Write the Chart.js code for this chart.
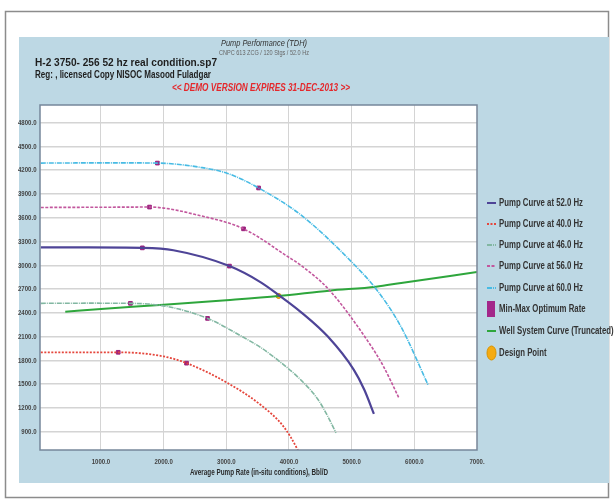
<!DOCTYPE html>
<html>
<head>
<meta charset="utf-8">
<script src="https://cdn.jsdelivr.net/npm/chart.js@4/dist/chart.umd.min.js"></script>
<style>
  html, body { margin: 0; padding: 0; background: #fff; }
  #wrap { position: relative; width: 614px; height: 503px; }
</style>
</head>
<body>
<div id="wrap"><canvas id="pumpChart" width="614" height="503"></canvas></div>
<script>
// Pump performance curves (rate in Bbl/D, head in ft)

const seriesLabels = [
    'Pump Curve at 52.0 Hz',
    'Pump Curve at 40.0 Hz',
    'Pump Curve at 46.0 Hz',
    'Pump Curve at 56.0 Hz',
    'Pump Curve at 60.0 Hz',
    'Min-Max Optimum Rate',
    'Well System Curve (Truncated)',
    'Design Point'
];

const hz52Rate = [40, 800, 1660, 2155, 3050, 3550, 3835, 4190, 4620, 5035, 5200, 5355];
const hz52Head = [3225, 3226, 3220, 3190, 2990, 2785, 2625, 2410, 2100, 1680, 1432, 1125];

const hz40Rate = [40, 700, 1275, 2000, 2365, 3020, 3550, 3915, 4140, 4200];
const hz40Head = [1900, 1902, 1902, 1850, 1765, 1515, 1237, 963, 669, 560];

const hz46Rate = [40, 800, 1470, 2060, 2700, 3230, 3550, 3820, 4190, 4460, 4610, 4750];
const hz46Head = [2520, 2522, 2520, 2480, 2330, 2110, 1962, 1805, 1553, 1310, 1107, 885];

const hz56Rate = [40, 800, 1775, 2590, 3275, 3980, 4190, 4640, 5260, 5500, 5755];
const hz56Head = [3730, 3732, 3735, 3625, 3460, 3110, 3000, 2690, 2040, 1735, 1325];

const hz60Rate = [40, 600, 1200, 1900, 2590, 3020, 3515, 4190, 4990, 5420, 5790, 6220];
const hz60Head = [4290, 4292, 4293, 4290, 4236, 4160, 3976, 3635, 3050, 2670, 2220, 1490];

const optimumRate = [1275, 2365, 1470, 2700, 1660, 3050, 1775, 3275, 1900, 3515];
const optimumHead = [1902, 1765, 2520, 2330, 3220, 2990, 3735, 3460, 4290, 3976];

const wellRate = [430, 1000, 2000, 3000, 3835, 4640, 5390, 5790, 7000];
const wellHead = [2415, 2450, 2503, 2560, 2613, 2680, 2730, 2777, 2915];

const designRate = [3835];
const designHead = [2613];

const xTickValues = [1000, 2000, 3000, 4000, 5000, 6000, 7000];
const xTickLabels = ['1000.0', '2000.0', '3000.0', '4000.0', '5000.0', '6000.0', '7000.'];
const yTickValues = [900, 1200, 1500, 1800, 2100, 2400, 2700, 3000, 3300, 3600, 3900, 4200, 4500, 4800];

const titleLines = ['Pump Performance (TDH)', 'CNPC 613 ZCG / 120 Stgs / 52.0 Hz'];
const fileLine = 'H-2 3750- 256 52 hz real condition.sp7';
const regLine = 'Reg: , licensed Copy NISOC Masood Fuladgar';
const demoLine = '<< DEMO VERSION EXPIRES 31-DEC-2013 >>';
const xAxisTitle = 'Average Pump Rate (in-situ conditions), Bbl/D';

const FONT = "'Liberation Sans', Arial, sans-serif";

function toPoints(xs, ys) {
    return xs.map((x, i) => ({ x: x, y: ys[i] }));
}

function curve(label, xs, ys, color, dash, width) {
    return {
        label: label,
        data: toPoints(xs, ys),
        borderColor: color,
        backgroundColor: color,
        borderWidth: width,
        borderDash: dash,
        pointRadius: 0,
        cubicInterpolationMode: 'monotone',
        fill: false
    };
}

// the original uses a narrow font, so squeeze text horizontally
function narrowText(c, text, x, y, k, align) {
    c.save();
    c.translate(x, y);
    c.scale(k, 1);
    c.textAlign = align;
    c.fillText(text, 0, 0);
    c.restore();
}

function fitText(c, text, x, y, width, align) {
    narrowText(c, text, x, y, width / c.measureText(text).width, align);
}

const styles = [
    { color: '#4e4497', dash: [], width: 2.2 },
    { color: '#e5463c', dash: [2, 1.5], width: 1.8 },
    { color: '#82b7a2', dash: [5, 1, 1, 1], width: 1.6 },
    { color: '#c2579d', dash: [3, 1.5], width: 1.6 },
    { color: '#47bbe4', dash: [5, 1, 1, 1], width: 1.6 }
];

// background, frame, texts and legend
const pagePlugin = {
    id: 'page',
    beforeDraw(chart) {
        const c = chart.ctx;
        const a = chart.chartArea;
        c.save();
        c.fillStyle = '#ffffff';
        c.fillRect(0, 0, chart.width, chart.height);
        c.strokeStyle = '#8c8c8c';
        c.lineWidth = 1.5;
        c.strokeRect(5.5, 11.5, 603, 486);
        c.fillStyle = '#bdd8e4';
        c.fillRect(19, 37, 590, 446);
        c.fillStyle = '#ffffff';
        c.fillRect(a.left, a.top, a.right - a.left, a.bottom - a.top);
        c.restore();
    },
    afterDraw(chart) {
        const c = chart.ctx;
        const a = chart.chartArea;
        const xs = chart.scales.x;
        const ys = chart.scales.y;
        c.save();
        c.strokeStyle = '#76879a';
        c.lineWidth = 1.5;
        c.strokeRect(a.left, a.top, a.right - a.left, a.bottom - a.top);

        c.textBaseline = 'middle';
        c.fillStyle = '#333';
        c.font = 'italic 9px ' + FONT;
        fitText(c, titleLines[0], 264, 43, 86, 'center');
        c.fillStyle = '#666';
        c.font = '8px ' + FONT;
        fitText(c, titleLines[1], 264, 53, 90, 'center');

        c.fillStyle = '#1e1e1e';
        c.font = 'bold 11px ' + FONT;
        fitText(c, fileLine, 35, 63, 182, 'left');
        fitText(c, regLine, 35, 75, 176, 'left');

        c.fillStyle = '#e4282c';
        c.font = 'italic bold 11px ' + FONT;
        fitText(c, demoLine, 261, 88, 178, 'center');

        // tick labels
        c.fillStyle = '#444';
        c.font = 'bold 8px ' + FONT;
        const tk = 18.5 / c.measureText('4800.0').width;
        yTickValues.forEach(v => {
            narrowText(c, v.toFixed(1), 36.5, ys.getPixelForValue(v), tk, 'right');
        });
        xTickValues.forEach((v, i) => {
            narrowText(c, xTickLabels[i], xs.getPixelForValue(v), 462, tk, 'center');
        });
        c.fillStyle = '#2a2a2a';
        c.font = 'bold 9px ' + FONT;
        fitText(c, xAxisTitle, 259, 473, 138, 'center');

        // legend
        const lx = 487, tx = 499;
        const rows = [203, 224, 245, 266, 288, 309, 331, 353];
        c.font = 'bold 11px ' + FONT;
        const lk = 84 / c.measureText(seriesLabels[0]).width;
        seriesLabels.forEach((label, i) => {
            const y = rows[i];
            if (i < 5) {
                c.strokeStyle = styles[i].color;
                c.lineWidth = 2;
                c.setLineDash(styles[i].dash);
                c.beginPath();
                c.moveTo(lx, y);
                c.lineTo(lx + 9, y);
                c.stroke();
                c.setLineDash([]);
            } else if (i === 5) {
                c.fillStyle = '#a3278a';
                c.fillRect(lx, y - 8, 8, 16);
            } else if (i === 6) {
                c.strokeStyle = '#2ea63c';
                c.lineWidth = 2;
                c.beginPath();
                c.moveTo(lx, y);
                c.lineTo(lx + 9, y);
                c.stroke();
            } else {
                c.fillStyle = '#f5ab12';
                c.strokeStyle = '#d99400';
                c.lineWidth = 1;
                c.beginPath();
                c.ellipse(lx + 4.5, y, 4.5, 7, 0, 0, Math.PI * 2);
                c.fill();
                c.stroke();
            }
            c.fillStyle = '#333';
            narrowText(c, label, tx, y, lk, 'left');
        });
        c.restore();
    }
};

const datasets = [];
[
    [hz52Rate, hz52Head],
    [hz40Rate, hz40Head],
    [hz46Rate, hz46Head],
    [hz56Rate, hz56Head],
    [hz60Rate, hz60Head]
].forEach((pair, i) => {
    const s = styles[i];
    datasets.push(curve(seriesLabels[i], pair[0], pair[1], s.color, s.dash, s.width));
});
datasets.push(curve(seriesLabels[6], wellRate, wellHead, '#2ea63c', [], 2));
datasets.push({
    label: seriesLabels[5],
    data: toPoints(optimumRate, optimumHead),
    showLine: false,
    pointStyle: 'rect',
    pointRadius: 2.6,
    pointBackgroundColor: '#9b217e',
    pointBorderColor: '#9b217e'
});
datasets.push({
    label: seriesLabels[7],
    data: toPoints(designRate, designHead),
    showLine: false,
    pointStyle: 'circle',
    pointRadius: 2.5,
    pointBackgroundColor: '#f5ab12',
    pointBorderColor: '#c98a00'
});

new Chart(document.getElementById('pumpChart'), {
    type: 'line',
    data: { datasets: datasets },
    options: {
        responsive: false,
        animation: false,
        layout: { padding: { left: 0, right: 137, top: 105, bottom: 18 } },
        plugins: {
            legend: { display: false },
            tooltip: { enabled: false }
        },
        scales: {
            x: {
                type: 'linear',
                min: 27,
                max: 7000,
                afterBuildTicks: axis => { axis.ticks = xTickValues.map(v => ({ value: v })); },
                afterFit: axis => { axis.height = 35; },
                grid: { color: '#d4d4d4', lineWidth: 1, drawTicks: false },
                border: { display: false },
                ticks: { display: false }
            },
            y: {
                type: 'linear',
                min: 669,
                max: 5023,
                afterBuildTicks: axis => { axis.ticks = yTickValues.map(v => ({ value: v })); },
                afterFit: axis => { axis.width = 40; },
                grid: { color: '#d4d4d4', lineWidth: 1.5, drawTicks: false },
                border: { display: false },
                ticks: { display: false }
            }
        }
    },
    plugins: [pagePlugin]
});
</script>
</body>
</html>
